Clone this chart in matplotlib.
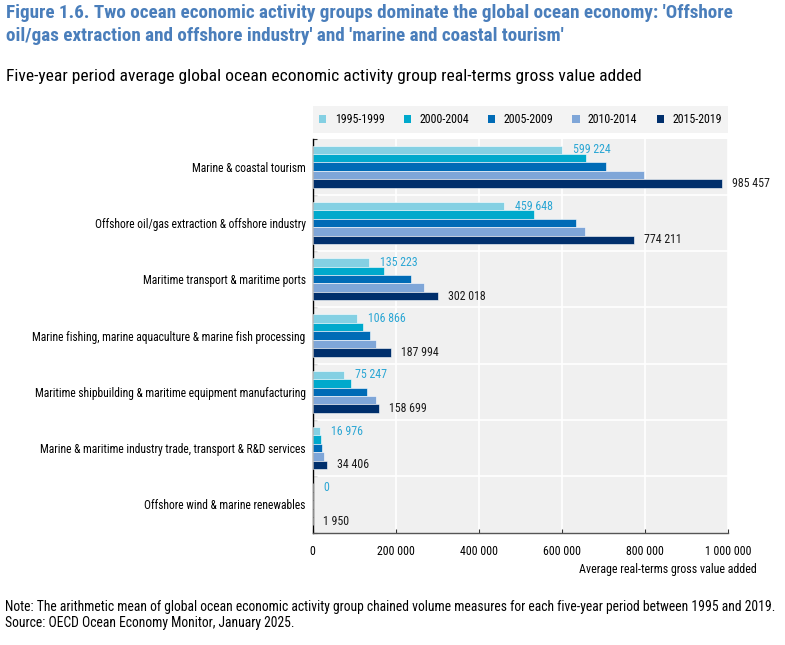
import matplotlib
matplotlib.use("Agg")
import matplotlib.pyplot as plt
from matplotlib import font_manager
from matplotlib.patches import Patch
import numpy as np

def pick_font(cands):
    avail = {f.name for f in font_manager.fontManager.ttflist}
    for c in cands:
        if c in avail:
            return c
    return "DejaVu Sans"

FONT = pick_font(["Liberation Sans Narrow", "Arial Narrow", "Roboto Condensed", "PT Sans Narrow", "Liberation Sans"])
plt.rcParams["font.family"] = [FONT, "DejaVu Sans"]

categories = [
    "Marine & coastal tourism",
    "Offshore oil/gas extraction & offshore industry",
    "Maritime transport & maritime ports",
    "Marine fishing, marine aquaculture & marine fish processing",
    "Maritime shipbuilding & maritime equipment manufacturing",
    "Marine & maritime industry trade, transport & R&D services",
    "Offshore wind & marine renewables",
]
periods = ["1995-1999", "2000-2004", "2005-2009", "2010-2014", "2015-2019"]
v1995 = [599224, 459648, 135223, 106866, 75247, 16976, 0]
v2000 = [658600, 534000, 171300, 121400, 93400, 19300, 0]
v2005 = [705200, 634500, 238000, 137500, 131000, 22500, 200]
v2010 = [798500, 655400, 267800, 152000, 152000, 27300, 800]
v2015 = [985457, 774211, 302018, 187994, 158699, 34406, 1950]
series = [v1995, v2000, v2005, v2010, v2015]
colors = ["#84d0e3", "#00a9cc", "#006bb6", "#7fa6d8", "#002f6c"]
xticks = [0, 200000, 400000, 600000, 800000, 1000000]
xticklabels = ["0", "200 000", "400 000", "600 000", "800 000", "1 000 000"]

W, H = 785, 645
fig = plt.figure(figsize=(W / 100, H / 100), dpi=100)
ax_l, ax_r, ax_t, ax_b = 312.6, 728.1, 138.5, 532.5
ax = fig.add_axes([ax_l / W, 1 - ax_b / H, (ax_r - ax_l) / W, (ax_b - ax_t) / H])
ax.set_facecolor("#f0f0f0")

n = len(categories)
y = np.arange(n)
bh = 0.15
for i, (vals, col) in enumerate(zip(series, colors)):
    offs = (i - 2) * bh
    ax.barh(y + offs, vals, height=bh, color=col, edgecolor="white", linewidth=0.4, zorder=3)

def fmt(v):
    return f"{v:,}".replace(",", " ")

px = 1000000 / (ax_r - ax_l)
for j in range(n):
    ax.text(v1995[j] + 11 * px, y[j] - 2 * bh, fmt(v1995[j]), va="center", ha="left",
            fontsize=8.6, color="#2aa6d4", zorder=4)
    ax.text(v2015[j] + 10 * px, y[j] + 2 * bh, fmt(v2015[j]), va="center", ha="left",
            fontsize=8.6, color="#1a1a1a", zorder=4)

ax.set_xlim(0, 1000000)
ax.set_ylim(n - 0.5, -0.5)
ax.set_xticks(xticks)
ax.set_xticklabels(xticklabels, fontsize=8.6)
bounds = np.arange(-0.5, n, 1.0)
ax.set_yticks(bounds)
ax.set_yticklabels([""] * len(bounds))
ax.set_yticks(y, minor=True)
ax.set_yticklabels(categories, minor=True, fontsize=8.3)
ax.tick_params(axis="y", which="minor", length=0, pad=5)
ax.tick_params(axis="y", which="major", direction="in", length=3, color="#333333")
ax.tick_params(axis="x", direction="in", length=3, pad=9, color="#333333")
ax.grid(True, axis="x", color="white", linewidth=1.2, zorder=1)
for b in bounds[1:-1]:
    ax.axhline(b, color="white", linewidth=1.2, zorder=1)
for s in ["top", "right"]:
    ax.spines[s].set_visible(False)
ax.spines["left"].set_color("#000000")
ax.spines["left"].set_linewidth(1.0)
ax.spines["bottom"].set_color("#555555")
ax.spines["bottom"].set_linewidth(1.0)
ax.set_axisbelow(True)

# legend
ah = ax_b - ax_t
handles = [Patch(facecolor=c, edgecolor="none") for c in colors]
leg = ax.legend(handles, periods, ncol=5, loc="lower left",
                bbox_to_anchor=(0, (ax_b - 132.5) / ah, 1, (132.5 - 105) / ah),
                mode="expand", frameon=True, fancybox=False, fontsize=8.6,
                handlelength=0.6, handleheight=0.6, handletextpad=0.7,
                borderaxespad=0, borderpad=0.55, columnspacing=1.0)
leg.get_frame().set_facecolor("#f0f0f0")
leg.get_frame().set_edgecolor("none")

fig.text(757 / W, 1 - 569 / H, "Average real-terms gross value added", ha="right", va="center", fontsize=8.6)

title_col = "#4a7ebb"
fig.text(6 / W, 1 - 18.5 / H, "Figure 1.6. Two ocean economic activity groups dominate the global ocean economy: 'Offshore",
         ha="left", va="baseline", fontsize=13.8, fontweight="bold", color=title_col)
fig.text(6 / W, 1 - 41 / H, "oil/gas extraction and offshore industry' and 'marine and coastal tourism'",
         ha="left", va="baseline", fontsize=13.8, fontweight="bold", color=title_col)
fig.text(6 / W, 1 - 81 / H, "Five-year period average global ocean economic activity group real-terms gross value added",
         ha="left", va="baseline", fontsize=12.6, color="#000000")
fig.text(5 / W, 1 - 611 / H, "Note: The arithmetic mean of global ocean economic activity group chained volume measures for each five-year period between 1995 and 2019.",
         ha="left", va="baseline", fontsize=9.8, color="#000000")
fig.text(5 / W, 1 - 627 / H, "Source: OECD Ocean Economy Monitor, January 2025.",
         ha="left", va="baseline", fontsize=9.8, color="#000000")

fig.savefig("out.png", dpi=100)
